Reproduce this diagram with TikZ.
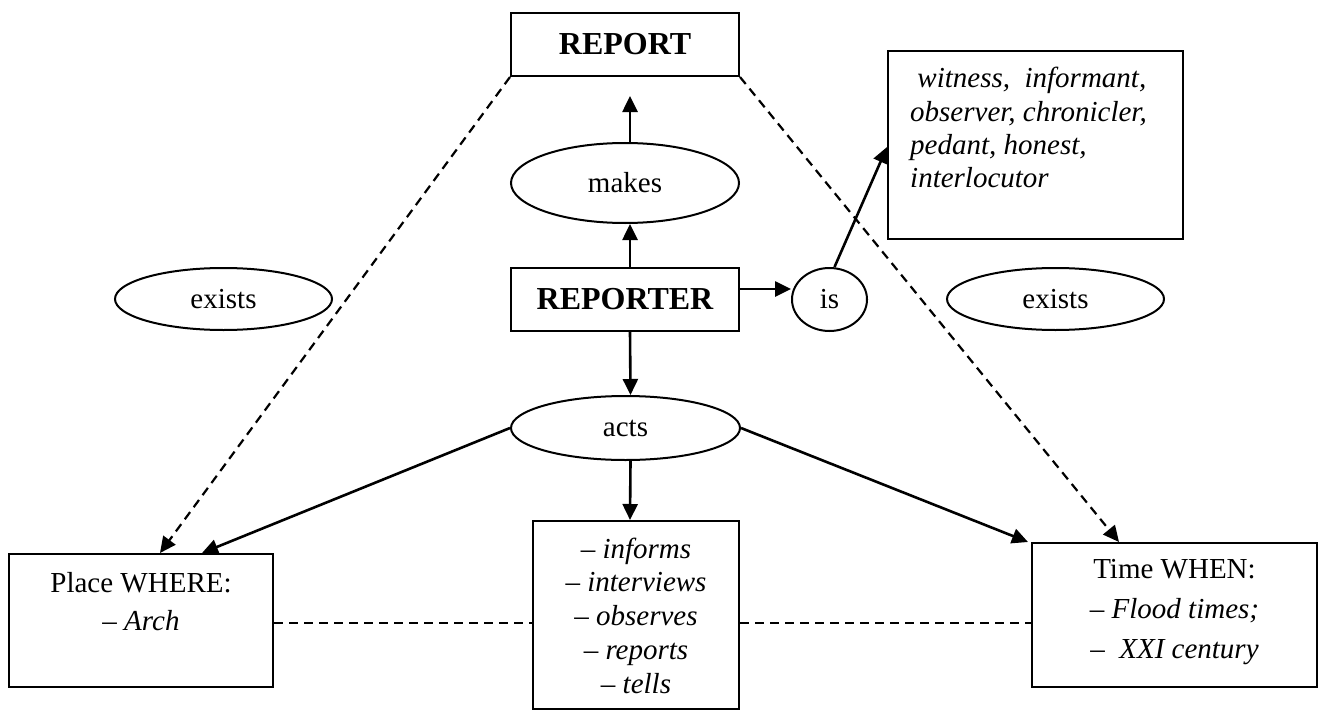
\documentclass[tikz,border=0pt]{standalone}
\usepackage{fontspec}
\setmainfont{Liberation Serif}
\usetikzlibrary{arrows.meta,shapes.geometric,calc}
\begin{document}
\begin{tikzpicture}[x=1bp,y=-1bp,
  every node/.style={font=\fontsize{29bp}{34bp}\selectfont, inner sep=0pt},
  boldtext/.style={font=\fontsize{32bp}{36bp}\selectfont\bfseries},
  box/.style={draw, line width=2bp, rectangle},
  oval/.style={draw, line width=2bp, ellipse},
  tip/.style={-{Triangle[length=16bp,width=15bp]}},
  arr/.style={line width=2.6bp, tip},
  dashedline/.style={line width=2.2bp, dash pattern=on 9bp off 6bp},
  dasharr/.style={dashedline, tip},
]
\useasboundingbox (0,0) rectangle (1320,711);

% central column
\node[box, boldtext, minimum width=228bp, minimum height=63bp] (report) at (625,44.5) {REPORT};
\node[oval, minimum width=228bp, minimum height=80bp] (makes) at (625,183) {makes};
\node[box, boldtext, minimum width=228bp, minimum height=63bp] (reporter) at (625,299.5) {REPORTER};
\node[oval, minimum width=229bp, minimum height=64bp] (acts) at (625.5,428) {acts};
\node[box, minimum width=206bp, minimum height=188bp] (actsbox) at (636,615) {};
\node[anchor=base, font=\fontsize{29bp}{33.75bp}\selectfont] (actstext) at (636,558)
  {\begin{tabular}[t]{@{}c@{}}– \textit{informs}\\– \textit{interviews}\\– \textit{observes}\\– \textit{reports}\\– \textit{tells}\end{tabular}};

% right of the reporter
\node[oval, minimum width=75bp, minimum height=63bp] (is) at (829.5,299.5) {is};
\node[box, minimum width=295bp, minimum height=188bp] (witness) at (1035.5,145) {};
\node[anchor=base west, font=\fontsize{29bp}{33.3bp}\selectfont] (witnesstext) at (910,88)
  {\begin{tabular}[t]{@{}l@{}}\ \textit{witness,\ \ informant,}\\\textit{observer, chronicler,}\\\textit{pedant, honest,}\\\textit{interlocutor}\end{tabular}};

% side ovals
\node[oval, minimum width=217bp, minimum height=62bp] (existsL) at (223.5,299) {exists};
\node[oval, minimum width=217bp, minimum height=62bp] (existsR) at (1055.5,299) {exists};

% place and time boxes
\node[box, minimum width=264bp, minimum height=133bp] (place) at (141,620.5) {};
\node[anchor=base, font=\fontsize{29bp}{38bp}\selectfont] (placetext) at (141,592)
  {\begin{tabular}[t]{@{}c@{}}Place WHERE:\\– \textit{Arch}\end{tabular}};
\node[box, minimum width=285bp, minimum height=144bp] (time) at (1174.5,615) {};
\node[anchor=base, font=\fontsize{29bp}{40bp}\selectfont] (timetext) at (1174.5,578)
  {\begin{tabular}[t]{@{}c@{}}Time WHEN:\\– \textit{Flood times;}\\–\ \ \textit{XXI century}\end{tabular}};

% solid connectors
\draw[arr] ($(reporter.north)+(5,0)$) -- ($(makes.south)+(5,0)$);
\draw[arr, shorten >=19bp] ($(makes.north)+(5,0)$) -- ($(report.south)+(5,0)$);
\draw[arr] ($(reporter.east)+(0,-10.5)$) -- ($(is.west)+(0,-10.5)$);
\draw[arr] ($(is.north)+(5,0)$) -- ($(witness.west)+(0,2)$);
\draw[arr] ($(reporter.south)+(5,0)$) -- ($(acts.north)+(5,0)$);
\draw[arr] ($(acts.south)+(5,0)$) -- ($(actsbox.north)+(-6,0)$);
\draw[arr] (acts.west) -- ($(place.north)+(61,0)$);
\draw[arr] (acts.east) -- ($(time.north west)+(-3,0)$);

% dashed connectors
\draw[dasharr] (report.south west) -- ($(place.north)+(19,0)$);
\draw[dasharr] (report.south east) -- ($(time.north)+(-55.5,0)$);
\draw[dashedline] ($(place.east)+(0,2.5)$) -- ($(actsbox.west |- place.east)+(0,2.5)$);
\draw[dashedline] ($(actsbox.east |- place.east)+(0,2.5)$) -- ($(time.west |- place.east)+(0,2.5)$);
\end{tikzpicture}
\end{document}
